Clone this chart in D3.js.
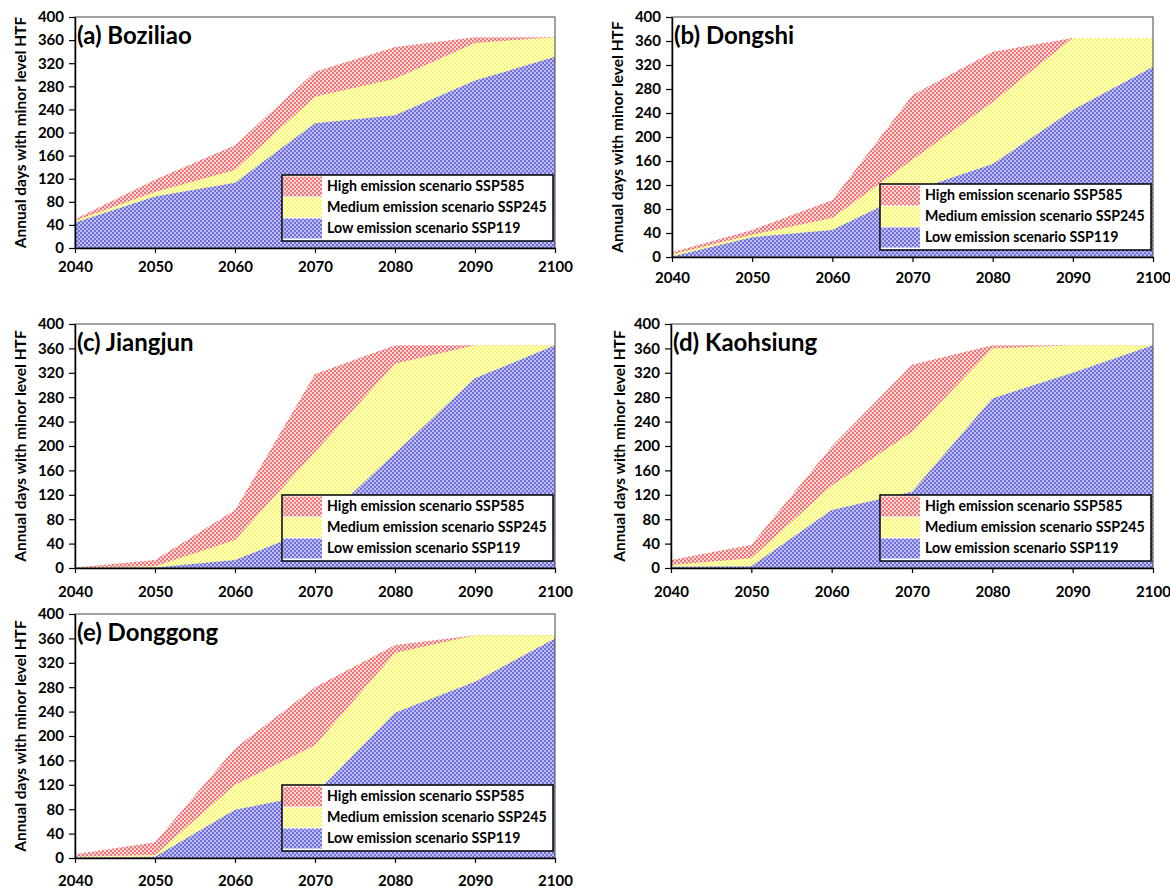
<!DOCTYPE html>
<html>
<head>
<meta charset="utf-8">
<script src="https://cdn.jsdelivr.net/npm/d3@7"></script>
<style>
  body { margin: 0; background: #fff; }
  svg { font-family: Lato, 'Open Sans', sans-serif; font-weight: bold; }
</style>
</head>
<body>
<svg id="chart" width="1170" height="890"></svg>
<script>
// years on the x axis and y ticks
const years = [2040, 2050, 2060, 2070, 2080, 2090, 2100];
const yTicks = [0, 40, 80, 120, 160, 200, 240, 280, 320, 360, 400];
const titles = ['(a) Boziliao', '(b) Dongshi', '(c) Jiangjun', '(d) Kaohsiung', '(e) Donggong'];
const scenarioNames = ['High emission scenario SSP585', 'Medium emission scenario SSP245', 'Low emission scenario SSP119'];
const yLabel = 'Annual days with minor level HTF';

// annual days
const boziliaoHigh = [50, 118, 178, 305, 348, 365, 365];
const boziliaoMed  = [47, 97, 135, 262, 293, 355, 365];
const boziliaoLow  = [44, 89, 113, 216, 230, 290, 331];

const dongshiHigh = [8, 45, 95, 270, 342, 365, 365];
const dongshiMed  = [4, 37, 65, 162, 258, 365, 365];
const dongshiLow  = [1, 33, 45, 110, 155, 245, 317];

const jiangjunHigh = [1, 13, 95, 318, 365, 365, 365];
const jiangjunMed  = [0, 3, 46, 190, 335, 365, 365];
const jiangjunLow  = [0, 1, 13, 65, 188, 311, 365];

const kaohsiungHigh = [13, 38, 199, 333, 365, 365, 365];
const kaohsiungMed  = [5, 16, 135, 223, 360, 365, 365];
const kaohsiungLow  = [2, 3, 95, 125, 278, 320, 365];

const donggongHigh = [6, 26, 180, 280, 349, 365, 365];
const donggongMed  = [2, 5, 120, 185, 336, 365, 365];
const donggongLow  = [1, 2, 79, 105, 238, 289, 360];

const panels = [
  {title: titles[0], series: [boziliaoHigh, boziliaoMed, boziliaoLow], left: 75, right: 555, top: 17, bottom: 248, labelX: 22, xPad: 8},
  {title: titles[1], series: [dongshiHigh, dongshiMed, dongshiLow], left: 672, right: 1153, top: 17, bottom: 257, labelX: 619, xPad: 10},
  {title: titles[2], series: [jiangjunHigh, jiangjunMed, jiangjunLow], left: 75, right: 555, top: 324, bottom: 568, labelX: 22, xPad: 13},
  {title: titles[3], series: [kaohsiungHigh, kaohsiungMed, kaohsiungLow], left: 671, right: 1153, top: 324, bottom: 568, labelX: 621, xPad: 13},
  {title: titles[4], series: [donggongHigh, donggongMed, donggongLow], left: 75, right: 555, top: 614, bottom: 858, labelX: 22, xPad: 12}
];

const fills = [
  {id: 'patHigh', dark: '#ee7878', light: '#fcd6d6'},
  {id: 'patMed', dark: '#f7f772', light: '#ffffcc'},
  {id: 'patLow', dark: '#7070dc', light: '#bebef2'}
];

const svg = d3.select('#chart');
const defs = svg.append('defs');

fills.forEach((f) => {
  let p = defs.append('pattern')
    .attr('id', f.id)
    .attr('patternUnits', 'userSpaceOnUse')
    .attr('width', 4)
    .attr('height', 4);
  p.append('rect').attr('width', 4).attr('height', 4).attr('fill', f.light);
  p.append('rect').attr('width', 2).attr('height', 2).attr('fill', f.dark);
  p.append('rect').attr('x', 2).attr('y', 2).attr('width', 2).attr('height', 2).attr('fill', f.dark);
});

panels.forEach((pn, k) => {
  let sx = d3.scaleLinear().domain([2040, 2100]).range([pn.left, pn.right]);
  let sy = d3.scaleLinear().domain([0, 400]).range([pn.bottom, pn.top]);
  let g = svg.append('g').attr('class', 'panel');

  defs.append('clipPath').attr('id', 'clip' + k)
    .append('rect')
    .attr('x', pn.left).attr('y', pn.top)
    .attr('width', pn.right - pn.left).attr('height', pn.bottom - pn.top);

  let area = d3.area()
    .x((d, i) => sx(years[i]))
    .y0(sy(0))
    .y1((d) => sy(d));

  g.append('g').attr('clip-path', 'url(#clip' + k + ')')
    .selectAll('path')
    .data(pn.series)
    .enter()
    .append('path')
    .attr('d', (d) => area(d))
    .attr('fill', (d, i) => 'url(#' + fills[i].id + ')');

  // frame
  g.append('rect')
    .attr('x', pn.left).attr('y', pn.top)
    .attr('width', pn.right - pn.left).attr('height', pn.bottom - pn.top)
    .attr('fill', 'none')
    .attr('stroke', '#444')
    .attr('stroke-width', 1);

  let yAxis = g.append('g')
    .attr('transform', 'translate(' + pn.left + ',0)')
    .call(d3.axisLeft(sy).tickValues(yTicks).tickSize(6).tickSizeOuter(0).tickPadding(5));

  let xAxis = g.append('g')
    .attr('transform', 'translate(0,' + pn.bottom + ')')
    .call(d3.axisBottom(sx).tickValues(years).tickFormat(d3.format('d')).tickSize(5).tickSizeOuter(0).tickPadding(pn.xPad));

  [yAxis, xAxis].forEach((a) => {
    a.select('.domain').attr('stroke', '#000').attr('stroke-width', 1.5);
    a.selectAll('.tick line').attr('stroke', '#000').attr('stroke-width', 1.2);
    a.selectAll('.tick text')
      .attr('fill', '#000')
      .style('font-size', '15px')
      .style('font-family', 'Lato, sans-serif')
      .style('font-weight', 'bold');
  });

  g.append('text')
    .attr('transform', 'rotate(-90,' + pn.labelX + ',' + ((pn.top + pn.bottom) / 2) + ')')
    .attr('x', pn.labelX)
    .attr('y', (pn.top + pn.bottom) / 2)
    .attr('text-anchor', 'middle')
    .attr('dominant-baseline', 'middle')
    .style('font-size', '15.5px')
    .text(yLabel);

  g.append('text')
    .attr('x', pn.left + 2)
    .attr('y', pn.top + 27)
    .style('font-size', '24px')
    .text(pn.title);

  // legend box
  let lw = 271, lh = 66;
  let lx = pn.right - 2 - lw;
  let ly = pn.bottom - 7 - lh;
  let lg = g.append('g').attr('class', 'legend');
  lg.append('rect')
    .attr('x', lx).attr('y', ly)
    .attr('width', lw).attr('height', lh)
    .attr('fill', '#fff')
    .attr('stroke', '#000')
    .attr('stroke-width', 1.5);

  let rows = lg.selectAll('.legendRow')
    .data(scenarioNames)
    .enter()
    .append('g')
    .attr('class', 'legendRow');

  rows.append('rect')
    .attr('x', lx + 1)
    .attr('y', (d, i) => ly + 1.5 + i * 21)
    .attr('width', 39)
    .attr('height', 20)
    .attr('fill', (d, i) => 'url(#' + fills[i].id + ')');

  rows.append('text')
    .attr('x', lx + 45)
    .attr('y', (d, i) => ly + 16 + i * 21)
    .style('font-size', '14.2px')
    .text((d) => d);
});
</script>
</body>
</html>
